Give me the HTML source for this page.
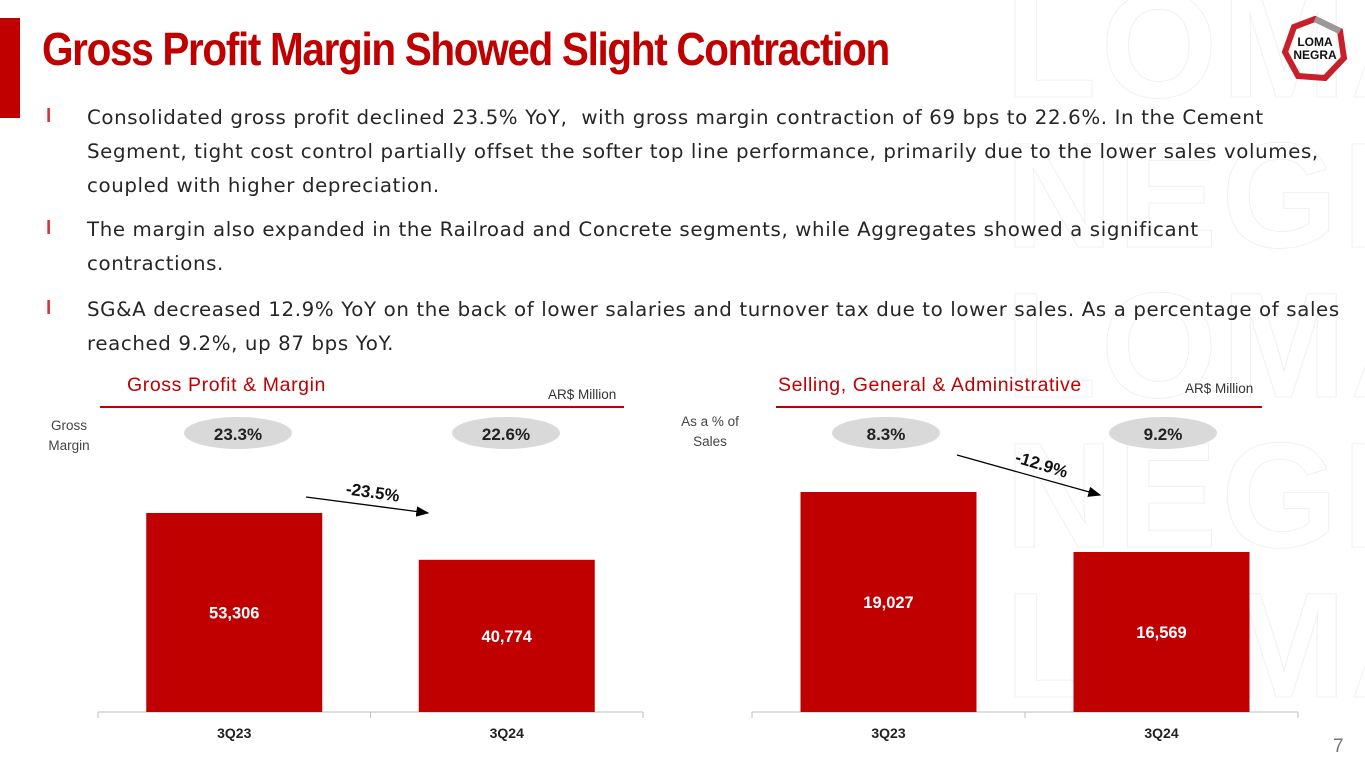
<!DOCTYPE html>
<html><head><meta charset="utf-8"><style>
html,body{margin:0;width:1365px;height:768px;overflow:hidden}
body{background:#fff;position:relative;font-family:"Liberation Sans",sans-serif}
.abs{position:absolute}
.title{left:42px;top:22px;font-size:46px;font-weight:bold;color:#c00000;letter-spacing:-1.5px;white-space:nowrap;transform:scaleX(0.88);transform-origin:left top}
.b{left:87px;font-family:"DejaVu Sans",sans-serif;font-size:19.8px;letter-spacing:0.62px;color:#262626;line-height:34px;white-space:nowrap}
.bul{left:46px;color:#e03030;font-size:19px;font-weight:bold}
.hdr{font-size:19.5px;color:#c00000;letter-spacing:0.6px}
.unit{font-size:13.5px;color:#333}
.small{font-size:13.5px;color:#444;text-align:center;line-height:20px}
.wmwrap{left:1005px;top:0;width:360px;height:768px;overflow:hidden}
.wm{font-size:150px;font-weight:bold;color:transparent;-webkit-text-stroke:1px #f0f0f0;line-height:150px;letter-spacing:4px;margin-top:-30px;white-space:nowrap}
</style></head><body>
<div class="abs wmwrap"><div class="wm">LOMA<br>NEGRA<br>LOMA<br>NEGRA<br>LOMA</div></div>
<div class="abs" style="left:0;top:18px;width:20px;height:100px;background:#c00000"></div>
<div class="abs title">Gross Profit Margin Showed Slight Contraction</div>
<svg class="abs" style="left:1280px;top:14px" width="70" height="70" viewBox="0 0 70 70">
<polygon points="35,5 60,17 64,44 45,64 18,62 5,38 14,13" fill="none" stroke="#c8202a" stroke-width="6"/>
<path d="M35,5 L60,17" stroke="#999" stroke-width="6"/>
<text x="35" y="32" text-anchor="middle" font-size="12" font-weight="bold" fill="#111" font-family="Liberation Sans">LOMA</text>
<text x="35" y="45" text-anchor="middle" font-size="12" font-weight="bold" fill="#111" font-family="Liberation Sans">NEGRA</text>
</svg>
<div class="abs bul" style="top:106px">l</div>
<div class="abs b" style="top:101px">Consolidated gross profit declined 23.5% YoY,&nbsp; with gross margin contraction of 69 bps to 22.6%. In the Cement<br>Segment, tight cost control partially offset the softer top line performance, primarily due to the lower sales volumes,<br>coupled with higher depreciation.</div>
<div class="abs bul" style="top:218px">l</div>
<div class="abs b" style="top:213px">The margin also expanded in the Railroad and Concrete segments, while Aggregates showed a significant<br>contractions.</div>
<div class="abs bul" style="top:298px">l</div>
<div class="abs b" style="top:293px">SG&amp;A decreased 12.9% YoY on the back of lower salaries and turnover tax due to lower sales. As a percentage of sales<br>reached 9.2%, up 87 bps YoY.</div>

<div class="abs hdr" style="left:127px;top:374px">Gross Profit &amp; Margin</div>
<div class="abs unit" style="left:548px;top:387px">AR$ Million</div>
<div class="abs" style="left:100px;top:406px;width:524px;height:2px;background:#c00000"></div>
<div class="abs small" style="left:38px;top:416px;width:62px">Gross<br>Margin</div>
<div class="abs hdr" style="left:778px;top:374px">Selling, General &amp; Administrative</div>
<div class="abs unit" style="left:1185px;top:381px">AR$ Million</div>
<div class="abs" style="left:776px;top:406px;width:486px;height:2px;background:#c00000"></div>
<div class="abs small" style="left:660px;top:412px;width:100px">As a % of<br>Sales</div>
<div class="abs" style="left:1333px;top:736px;font-size:19px;color:#777">7</div>

<svg id="charts" class="abs" style="left:0;top:0" width="1365" height="768">
<defs><marker id="ah" markerWidth="10" markerHeight="8" refX="9" refY="4" orient="auto"><polygon points="0,0 10,4 0,8" fill="#000"/></marker></defs>
</svg>
<script>
const categories=["3Q23","3Q24"];
const grossProfit=[53306,40774];
const grossMargin=["23.3%","22.6%"];
const sga=[19027,16569];
const sgaPct=["8.3%","9.2%"];
const changeLabels=["-23.5%","-12.9%"];
const ns="http://www.w3.org/2000/svg";
const svg=document.getElementById('charts');
function mk(t,a){const e=document.createElementNS(ns,t);for(const k in a)e.setAttribute(k,a[k]);svg.appendChild(e);return e;}
function chart(cfg){
  const base=712,slot=(cfg.x1-cfg.x0)/categories.length;
  const y=v=>base-(v-cfg.dmin)/(cfg.dmax-cfg.dmin)*cfg.h;
  const ax=mk('line',{x1:cfg.x0,x2:cfg.x1,y1:base,y2:base,stroke:'#bfbfbf','stroke-width':1});
  
  
  for(let i=0;i<=categories.length;i++){const t=mk('line',{x1:cfg.x0+i*slot,x2:cfg.x0+i*slot,y1:base,y2:base+6,stroke:'#bfbfbf'});
    
    }
  cfg.vals.forEach((v,i)=>{
    const cx=cfg.x0+slot*(i+0.5),top=y(v);
    const r=mk('rect',{x:cx-88,y:top,width:176,height:base-top,fill:'#c00000'});
    
    
    const l=mk('text',{x:cx,y:(top+base)/2+6,'text-anchor':'middle','font-size':16.5,'font-weight':'bold',fill:'#fff'});
    l.textContent=v.toLocaleString('en-US');
    
    
    const c=mk('text',{x:cx,y:738,'text-anchor':'middle','font-size':14,'font-weight':'bold',fill:'#222'});
    c.textContent=categories[i];
    
    
    const pcx=cfg.pill[i];
    const e=mk('ellipse',{cx:pcx,cy:433,rx:54,ry:16,fill:'#d9d9d9'});
    
    
    const pt=mk('text',{x:pcx,y:440,'text-anchor':'middle','font-size':17,'font-weight':'bold',fill:'#222'});
    pt.textContent=cfg.pct[i];
    
    
  });
  const a=cfg.arrow;
  const ar=mk('line',{x1:a[0],y1:a[1],x2:a[2],y2:a[3],stroke:'#000','stroke-width':1.3,'marker-end':'url(#ah)'});
  
  
  const ct=mk('text',{x:a[4],y:a[5],'text-anchor':'middle','font-size':17,'font-weight':'bold',fill:'#111',transform:`rotate(${a[6]} ${a[4]} ${a[5]})`});
  ct.textContent=cfg.change;
  
  
}
chart({p:'gross-profit',x0:98,x1:643,vals:grossProfit,dmin:0,dmax:53306,h:199,pct:grossMargin,pill:[238,506],arrow:[306,497,428,513,372,498,8],change:changeLabels[0]});
chart({p:'sga',x0:752,x1:1298,vals:sga,dmin:10014,dmax:19027,h:220,pct:sgaPct,pill:[886,1163],arrow:[957,455,1100,495,1040,470,17],change:changeLabels[1]});
</script>
</body></html>
